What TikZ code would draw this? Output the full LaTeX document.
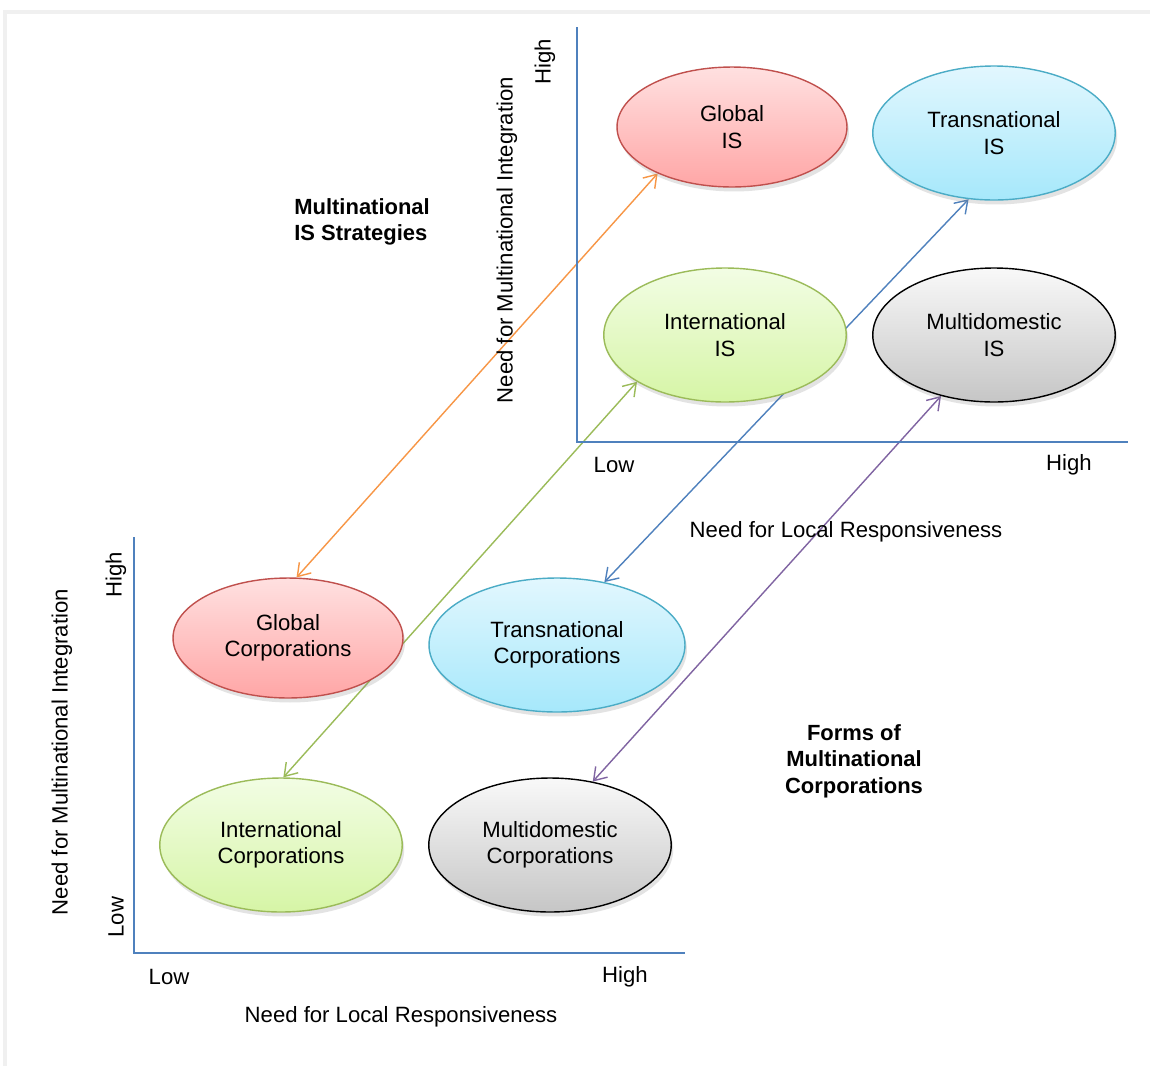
\documentclass[tikz,border=0pt]{standalone}
\usepackage{fontspec}
\setmainfont{Liberation Sans}
\usepackage{xcolor}
\usetikzlibrary{arrows.meta,shapes.geometric,shadows,backgrounds}
\definecolor{axisblue}{HTML}{4F81BD}
\definecolor{redline}{HTML}{C0504D}
\definecolor{cyanline}{HTML}{4BACC6}
\definecolor{greenline}{HTML}{9BBB59}
\definecolor{orangeline}{HTML}{F79646}
\definecolor{purpleline}{HTML}{8064A2}
\definecolor{cyantop}{HTML}{E2F7FE}
\definecolor{cyanbot}{HTML}{A6E8FB}
\definecolor{greentop}{HTML}{F2FDE4}
\definecolor{greenbot}{HTML}{D6F5A6}

\begin{document}
\begin{tikzpicture}[x=0.02cm, y=-0.02cm,
      ell/.style={ellipse, draw, line width=0.8pt, inner sep=0pt,
                  align=center, font=\fontsize{12.6}{15}\selectfont,
                  drop shadow={opacity=0.22, shadow xshift=0.4mm, shadow yshift=-0.9mm}},
      glob/.style={ell, draw=redline, top color=red!12, bottom color=red!35,
                   minimum width=4.6cm, minimum height=2.4cm},
      trans/.style={ell, draw=cyanline, top color=cyantop, bottom color=cyanbot,
                    minimum width=4.85cm, minimum height=2.68cm},
      inter/.style={ell, draw=greenline, top color=greentop, bottom color=greenbot,
                    minimum width=4.85cm, minimum height=2.68cm},
      multi/.style={ell, draw=black, top color=gray!5, bottom color=gray!45,
                    minimum width=4.85cm, minimum height=2.68cm},
      lbl/.style={font=\fontsize{12.6}{15}\selectfont, inner sep=0pt},
      ttl/.style={font=\fontsize{12.5}{15}\selectfont\bfseries, inner sep=0pt},
      axis/.style={draw=axisblue, line width=0.8pt},
      arr/.style={{Straight Barb[length=2.4mm,width=3.2mm]}-{Straight Barb[length=2.4mm,width=3.2mm]},
                  line width=0.8pt}
  ]
    \useasboundingbox (0,0) rectangle (1150,1066);

    % IS strategies (upper chart)
    \coordinate (tO) at (577,442);
    \coordinate (tY) at (577,27);
    \coordinate (tX) at (1128,442);
    \draw[axis] (tY) -- (tO) -- (tX);
    \node[lbl, rotate=90] (tyhigh) at (545,62) {High};
    \node[lbl, rotate=90] (tylab) at (507,240) {Need for Multinational Integration};
    \node[lbl] (txlow) at (614,465) {Low};
    \node[lbl] (txhigh) at (1069,465) {High};
    \node[lbl] (txlab) at (846,532) {Need for Local Responsiveness};
    \node[ttl, anchor=west, align=left] (istitle) at (294,222) {Multinational\\IS Strategies};

    \node[glob] (gis) at (732,127) {Global\\IS};
    \node[trans] (tis) at (994,133) {Transnational\\IS};
    \node[inter] (iis) at (725,335) {International\\IS};
    \node[multi] (mis) at (994,335) {Multidomestic\\IS};

    % forms of corporations (lower chart)
    \coordinate (bO) at (134,953);
    \coordinate (bY) at (134,537);
    \coordinate (bX) at (685,953);
    \draw[axis] (bY) -- (bO) -- (bX);
    \node[lbl, rotate=90] (byhigh) at (116,575) {High};
    \node[lbl, rotate=90] (bylow) at (116,917) {Low};
    \node[lbl, rotate=90] (bylab) at (62,752) {Need for Multinational Integration};
    \node[lbl] (bxlow) at (169,977) {Low};
    \node[lbl] (bxhigh) at (625,977) {High};
    \node[lbl] (bxlab) at (401,1017) {Need for Local Responsiveness};
    \node[ttl, align=center] (corptitle) at (854,761) {Forms of\\Multinational\\Corporations};

    \node[glob] (gcorp) at (288,638) {Global\\Corporations};
    \node[trans, minimum width=5.12cm] (tcorp) at (557,645) {Transnational\\Corporations};
    \node[inter] (icorp) at (281,845) {International\\Corporations};
    \node[multi] (mcorp) at (550,845) {Multidomestic\\Corporations};

    \begin{scope}[on background layer]
      \fill[gray!12] (3,10) rectangle (1150,1066);
      \fill[white] (7,14) rectangle (1150,1066);
      \draw[arr, orangeline] (gis.212) -- (gcorp.82);
      \draw[arr, greenline] (iis.208) -- (icorp.88);
      \draw[arr, axisblue] (tis.249) -- (tcorp.53);
      \draw[arr, purpleline] (mis.229) -- (mcorp.56);
    \end{scope}
  \end{tikzpicture}
\end{document}
